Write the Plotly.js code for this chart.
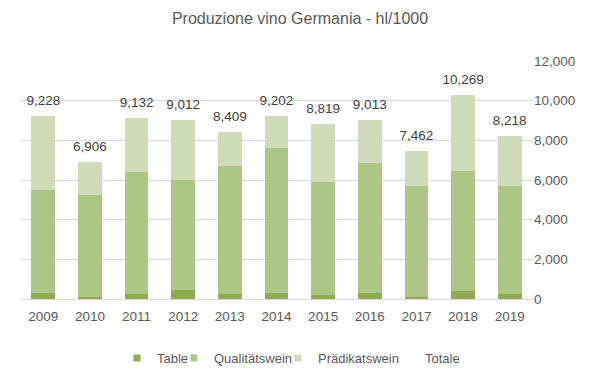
<!DOCTYPE html>
<html>
<head>
<meta charset="utf-8">
<script src="https://cdn.plot.ly/plotly-3.0.1.min.js"></script>
<style>html,body{margin:0;padding:0;background:#fff;}#chart{width:600px;height:381px;}</style>
</head>
<body>
<div id="chart"></div>
<script>
const years = ['2009','2010','2011','2012','2013','2014','2015','2016','2017','2018','2019'];
const table = [320, 100, 270, 473, 270, 320, 220, 320, 120, 420, 270];
const qualitatswein = [5196, 5163, 6122, 5514, 6427, 7288, 5667, 6529, 5599, 6024, 5449];
const pradikatswein = [3712, 1643, 2740, 3025, 1712, 1594, 2932, 2164, 1743, 3825, 2499];
const totale = [9228, 6906, 9132, 9012, 8409, 9202, 8819, 9013, 7462, 10269, 8218];
const totaleLabels = ['9,228','6,906','9,132','9,012','8,409','9,202','8,819','9,013','7,462','10,269','8,218'];

const font = 'Liberation Sans, Arial, sans-serif';
const cTable = '#8fab52', cQual = '#adc686', cPrad = '#d0dcb9';
function legendEntry(name, color, leg){
  return {type:'scatter', name:name, x:[null], y:[null], mode:'markers', legend:leg, legendgroup:name,
          marker:{symbol:'square', size:7, color:color}, hoverinfo:'skip'};
}
const traces = [
  {type:'bar', name:'Table', x:years, y:table, marker:{color:cTable}, showlegend:false, legendgroup:'Table'},
  {type:'bar', name:'Qualitätswein', x:years, y:qualitatswein, marker:{color:cQual}, showlegend:false, legendgroup:'Qualitätswein'},
  {type:'bar', name:'Prädikatswein', x:years, y:pradikatswein, marker:{color:cPrad}, showlegend:false, legendgroup:'Prädikatswein'},
  {type:'scatter', name:'Totale', x:years, y:totale, mode:'markers+text', legend:'legend4',
   marker:{size:11, color:'rgba(0,0,0,0)'}, text:totaleLabels, textposition:'top center',
   textfont:{family:font, size:13.5, color:'#404040'}, cliponaxis:false},
  legendEntry('Table', cTable, 'legend'),
  legendEntry('Qualitätswein', cQual, 'legend2'),
  legendEntry('Prädikatswein', cPrad, 'legend3')
];
const legFont = {family:font, size:13, color:'#595959'};
function leg(textX){ return {orientation:'h', x:(textX-40)/600, xanchor:'left', xref:'container', y:0.06, yref:'container',
  yanchor:'middle', font:legFont, itemwidth:30, itemsizing:'trace', bgcolor:'rgba(0,0,0,0)'}; }
const layout = {
  width:600, height:381,
  margin:{l:20, r:67, t:61, b:82},
  barmode:'stack', bargap:0.49,
  paper_bgcolor:'#fff', plot_bgcolor:'#fff',
  title:{text:'Produzione vino Germania - hl/1000', x:0.5, xanchor:'center', y:0.953, yanchor:'middle',
         font:{family:font, size:16, color:'#595959'}},
  xaxis:{type:'category', range:[-0.5,10.5], showgrid:false, showline:true, linecolor:'#d9d9d9', linewidth:1, ticks:'',
         ticklabelstandoff:5, tickfont:{family:font, size:13.5, color:'#595959'}},
  yaxis:{side:'right', range:[0,12000], dtick:2000, tickformat:',d', showgrid:true, gridcolor:'#d9d9d9',
         zeroline:false, showline:false, ticks:'', tickfont:{family:font, size:13.5, color:'#595959'}},
  showlegend:true,
  legend:leg(157),
  legend2:leg(214),
  legend3:leg(318),
  legend4:leg(425)
};
Plotly.newPlot('chart', traces, layout, {displayModeBar:false, staticPlot:true});
</script>
</body>
</html>
